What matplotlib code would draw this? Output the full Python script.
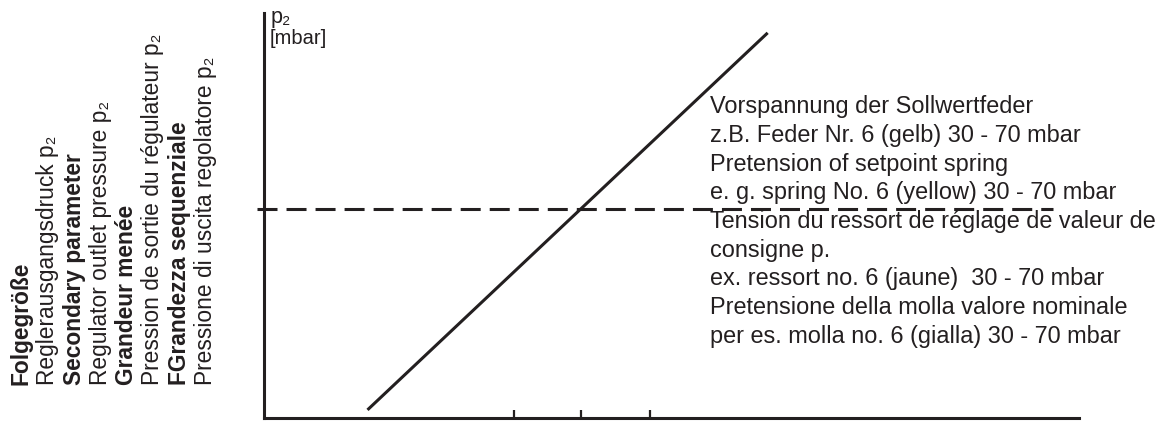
#!/usr/bin/env python3
"""Schematic: regulator outlet pressure p2 vs. setpoint spring pretension."""

import matplotlib
matplotlib.use("Agg")
import matplotlib.pyplot as plt

plt.rcParams["font.family"] = ["Liberation Sans", "DejaVu Sans"]
plt.rcParams["lines.scale_dashes"] = False

INK = "#231f20"

# schematic data (axis units 0..100)
line_x = [12.7, 61.8]
line_y = [2.0, 95.1]
p2_level = 51.7
p2_x = [-0.9, 96.8]
tick_x = [30.7, 38.9, 47.4]

left_lines = [
    ("Folgegröße", "bold"),
    ("Reglerausgangsdruck p₂", "normal"),
    ("Secondary parameter", "bold"),
    ("Regulator outlet pressure p₂", "normal"),
    ("Grandeur menée", "bold"),
    ("Pression de sortie du régulateur p₂", "normal"),
    ("FGrandezza sequenziale", "bold"),
    ("Pressione di uscita regolatore p₂", "normal"),
]

right_lines = [
    "Vorspannung der Sollwertfeder",
    "z.B. Feder Nr. 6 (gelb) 30 - 70 mbar",
    "Pretension of setpoint spring",
    "e. g. spring No. 6 (yellow) 30 - 70 mbar",
    "Tension du ressort de réglage de valeur de",
    "consigne p.",
    "ex. ressort no. 6 (jaune)  30 - 70 mbar",
    "Pretensione della molla valore nominale",
    "per es. molla no. 6 (gialla) 30 - 70 mbar",
]

W, H = 1157, 421
fig = plt.figure(figsize=(W / 100, H / 100), dpi=100)
ax = fig.add_axes([264 / W, 3 / H, 815 / W, 405 / H])
ax.set_xlim(0, 100)
ax.set_ylim(0, 100)

for s in ("top", "right"):
    ax.spines[s].set_visible(False)
for s in ("left", "bottom"):
    ax.spines[s].set_linewidth(2.2)
    ax.spines[s].set_color(INK)

ax.set_yticks([])
ax.set_xticks(tick_x)
ax.set_xticklabels([])
ax.tick_params(axis="x", direction="in", length=5.5, width=1.6, color=INK)

ax.plot(line_x, line_y, color=INK, lw=2.2, solid_capstyle="butt")
ax.plot(p2_x, [p2_level, p2_level], color=INK, lw=2.2,
        dashes=(14.4, 6.5), clip_on=False)

# y axis label
fig.text(271 / W, 1 - 23 / H, "p₂", fontsize=15.5, color=INK, va="baseline")
fig.text(270 / W, 1 - 44 / H, "[mbar]", fontsize=14.5, color=INK, va="baseline")

# left rotated legend block
for i, (txt, wt) in enumerate(left_lines):
    xb = 28 + i * 26.3
    fig.text(xb / W, 1 - 385 / H, txt, rotation=90, rotation_mode="anchor",
             ha="left", va="baseline", fontsize=16.4, fontweight=wt, color=INK)

# right annotation block
for i, txt in enumerate(right_lines):
    yb = 113 + i * 28.75
    fig.text(710 / W, 1 - yb / H, txt, ha="left", va="baseline",
             fontsize=16.9, color=INK)

fig.savefig("out.png", dpi=100)
